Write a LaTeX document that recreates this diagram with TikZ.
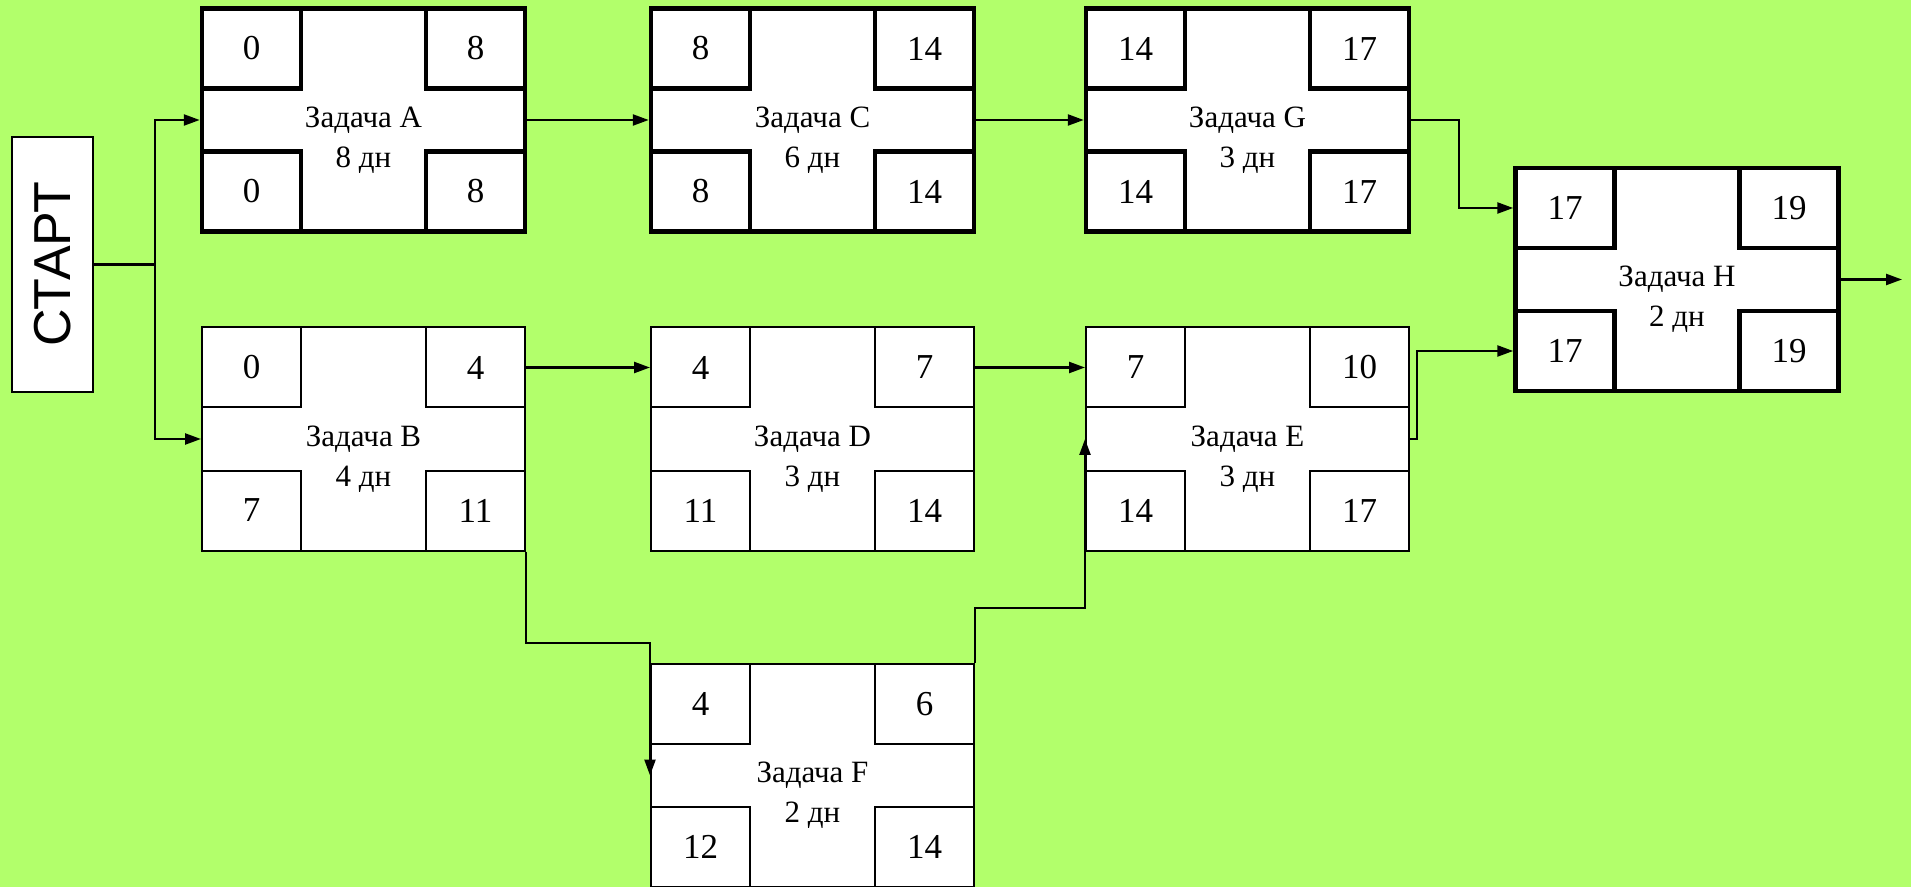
\documentclass[tikz,border=0pt]{standalone}
\usepackage{fontspec}
\setmainfont{Liberation Serif}
\newfontfamily\startfont{Liberation Sans}
\usetikzlibrary{arrows.meta}
\definecolor{bg}{RGB}{178,255,107}

\tikzset{
  tasknorm/.style={draw, fill=white, line width=1pt, minimum width=161.5pt, minimum height=111.5pt, inner sep=0pt},
  taskbold/.style={tasknorm, line width=2.25pt},
  cellnorm/.style={draw, fill=white, line width=1pt, minimum width=49.5pt, minimum height=40pt, inner sep=0pt, font=\fontsize{17.5}{20}\selectfont},
  cellbold/.style={cellnorm, line width=2.25pt},
  tasklabel/.style={align=center, inner sep=0pt, font=\fontsize{15.5}{20}\selectfont},
  startbox/.style={draw, fill=white, line width=1pt, minimum width=40.5pt, minimum height=127.5pt, inner sep=0pt},
  conn/.style={line width=1.2pt},
  arr/.style={conn, -{Triangle[length=8pt,width=5.5pt]}}
}

\newcommand{\taskbox}[8]{%
  \node[task#3] (#1) at (#2) {};
  \node[cell#3, anchor=north west] (#1-es) at (#1.north west) {#5};
  \node[cell#3, anchor=north east] (#1-ef) at (#1.north east) {#6};
  \node[cell#3, anchor=south west] (#1-ls) at (#1.south west) {#7};
  \node[cell#3, anchor=south east] (#1-lf) at (#1.south east) {#8};
  \node[tasklabel] (#1-lbl) at ([yshift=-10pt]#1.center) {#4};
}

\begin{document}
\begin{tikzpicture}[x=0.5pt, y=-0.5pt]
  \useasboundingbox (0,0) rectangle (1911,887);
  \clip (0,0) rectangle (1911,887);
  \fill[bg] (0,0) rectangle (1911,887);

  \node[startbox] (START) at (52.5,264.5) {\rotatebox{90}{\startfont\fontsize{26}{30}\selectfont СТАРТ}};

  \taskbox{A}{363.5,120}{bold}{Задача A\\8 дн}{0}{8}{0}{8}
  \taskbox{C}{812.5,120}{bold}{Задача C\\6 дн}{8}{14}{8}{14}
  \taskbox{G}{1247.5,120}{bold}{Задача G\\3 дн}{14}{17}{14}{17}
  \taskbox{H}{1677,279.5}{bold}{Задача H\\2 дн}{17}{19}{17}{19}
  \taskbox{B}{363.5,439}{norm}{Задача B\\4 дн}{0}{4}{7}{11}
  \taskbox{D}{812.5,439}{norm}{Задача D\\3 дн}{4}{7}{11}{14}
  \taskbox{E}{1247.5,439}{norm}{Задача E\\3 дн}{7}{10}{14}{17}
  \taskbox{F}{812.5,775.5}{norm}{Задача F\\2 дн}{4}{6}{12}{14}

  \coordinate (split) at (155,264.5);
  \coordinate (gh) at (1459,120);
  \coordinate (eh) at (1417,439);
  \coordinate (bf) at (525,643);
  \coordinate (fe) at (973,608);
  \coordinate (out) at (1902,279.5);

  \draw[conn] (START.east) -- (split);
  \draw[arr] (split) |- (A.west);
  \draw[arr] (split) |- (B.west);
  \draw[arr] (A.east) -- (C.west);
  \draw[arr] (C.east) -- (G.west);
  \draw[arr] (G.east) -- (gh) |- (H-es.west);
  \draw[arr] (B-ef.east) -- (D-es.west);
  \draw[arr] (D-ef.east) -- (E-es.west);
  \draw[arr] (E.east) -- (eh) |- (H-ls.west);
  \draw[arr] (B.south east) -- (B.south east |- bf) -- (F.north west |- bf) -- (F.west);
  \draw[arr] (F.north east) -- (F.north east |- fe) -- (E.south west |- fe) -- (E.west);
  \draw[arr] (H.east) -- (out);
\end{tikzpicture}
\end{document}
